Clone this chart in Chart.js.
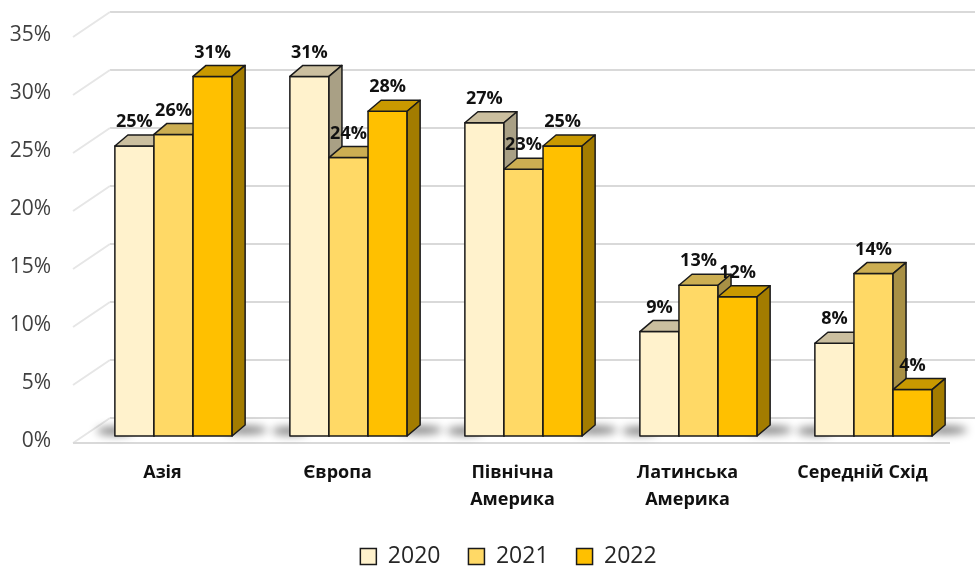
<!DOCTYPE html>
<html>
<head>
<meta charset="utf-8">
<script src="https://cdn.jsdelivr.net/npm/chart.js@4.4.0/dist/chart.umd.min.js"></script>
<style>
  html, body { margin: 0; padding: 0; background: #fff; }
  #wrap { width: 975px; height: 568px; }
</style>
</head>
<body>
<div id="wrap"><canvas id="chart"></canvas></div>
<script>
const categories = ["Азія", "Європа", ["Північна", "Америка"], ["Латинська", "Америка"], "Середній Схід"];
const years = ["2020", "2021", "2022"];
const values2020 = [25, 31, 27, 9, 8];
const values2021 = [26, 24, 23, 13, 14];
const values2022 = [31, 28, 25, 12, 4];
const yTicks = [0, 5, 10, 15, 20, 25, 30, 35];

const frontColors = ["#FFF2CC", "#FFD966", "#FFC000"];
const topColors = ["#CBBF9F", "#CCAE52", "#C99900"];
const sideColors = ["#A9A085", "#A89045", "#A37C00"];

const DX = 13, DY = 11; // bar depth

// back wall, floor and shadows
const wallPlugin = {
  id: "wall",
  afterLayout(chart) {
    // legend sits a bit right of centre in the original
    chart.legend.left += 28;
    chart.legend.right += 28;
  },
  beforeDatasetsDraw(chart) {
    const ctx = chart.ctx, y = chart.scales.y, area = chart.chartArea;
    const x0 = area.left - 13, x1 = area.left + 24;
    ctx.save();
    ctx.lineWidth = 2;
    yTicks.forEach(v => {
      const yf = y.getPixelForValue(v);
      const yb = yf - 18;
      ctx.strokeStyle = "#D9D9D9";
      ctx.beginPath(); ctx.moveTo(x1, yb); ctx.lineTo(chart.width, yb); ctx.stroke();
      ctx.strokeStyle = "#E6E6E6";
      ctx.beginPath(); ctx.moveTo(x0, yf + 7); ctx.lineTo(x1, yb); ctx.stroke();
    });
    const yz = y.getPixelForValue(0);
    ctx.strokeStyle = "#D9D9D9";
    ctx.beginPath(); ctx.moveTo(x0, yz + 7); ctx.lineTo(area.right - 11, yz + 7); ctx.stroke();

    // soft shadows on the floor, darkest next to the bars
    const first = chart.getDatasetMeta(0).data, last = chart.getDatasetMeta(2).data;
    ctx.filter = "blur(4px)";
    ctx.fillStyle = "rgba(0,0,0,0.5)";
    first.forEach((b, i) => {
      const l = b.x - b.width / 2, r = last[i].x + last[i].width / 2 + DX;
      ctx.beginPath();
      ctx.ellipse(l, yz - 5, 18, 4, 0, 0, Math.PI * 2);
      ctx.ellipse(r, yz - 6, 22, 4, 0, 0, Math.PI * 2);
      ctx.fill();
    });
    ctx.restore();
  }
};

// full 3D boxes, drawn left to right so each bar covers its neighbour's side face
const depthPlugin = {
  id: "depth",
  afterDatasetsDraw(chart) {
    const ctx = chart.ctx;
    ctx.save();
    ctx.lineWidth = 1.5;
    ctx.strokeStyle = "#1a1a1a";
    ctx.lineJoin = "round";
    chart.data.datasets.forEach((ds, i) => {
      chart.getDatasetMeta(i).data.forEach(b => {
        const l = b.x - b.width / 2, r = b.x + b.width / 2, t = b.y, bs = b.base;
        ctx.fillStyle = frontColors[i];
        ctx.beginPath();
        ctx.rect(l, t, r - l, bs - t);
        ctx.fill(); ctx.stroke();
        ctx.fillStyle = topColors[i];
        ctx.beginPath();
        ctx.moveTo(l, t); ctx.lineTo(l + DX, t - DY); ctx.lineTo(r + DX, t - DY); ctx.lineTo(r, t);
        ctx.closePath(); ctx.fill(); ctx.stroke();
        ctx.fillStyle = sideColors[i];
        ctx.beginPath();
        ctx.moveTo(r, t); ctx.lineTo(r + DX, t - DY); ctx.lineTo(r + DX, bs - DY); ctx.lineTo(r, bs);
        ctx.closePath(); ctx.fill(); ctx.stroke();
      });
    });

    ctx.font = "bold 18px 'Open Sans'";
    ctx.fillStyle = "#111";
    ctx.textAlign = "center";
    ctx.textBaseline = "middle";
    chart.data.datasets.forEach((ds, i) => {
      chart.getDatasetMeta(i).data.forEach((b, j) => {
        ctx.fillText(ds.data[j] + "%", b.x, b.y - 24);
      });
    });
    ctx.restore();
  }
};

new Chart(document.getElementById("chart"), {
  type: "bar",
  data: {
    labels: categories,
    datasets: [
      { label: years[0], data: values2020, backgroundColor: frontColors[0] },
      { label: years[1], data: values2021, backgroundColor: frontColors[1] },
      { label: years[2], data: values2022, backgroundColor: frontColors[2] }
    ].map(d => Object.assign(d, {
      borderColor: "#1a1a1a", borderWidth: 1.5, borderSkipped: false,
      categoryPercentage: 0.67, barPercentage: 1
    }))
  },
  options: {
    responsive: true,
    maintainAspectRatio: false,
    animation: false,
    layout: { padding: { top: 30, right: 14, left: 0, bottom: -10 } },
    plugins: {
      tooltip: { enabled: false },
      legend: {
        position: "bottom",
        labels: {
          boxWidth: 16, boxHeight: 16, padding: 28,
          color: "#262626",
          font: { family: "'Open Sans'", size: 23 }
        }
      }
    },
    scales: {
      x: {
        grid: { display: false, drawTicks: false },
        border: { display: false },
        ticks: {
          padding: 23, labelOffset: -11, maxRotation: 0,
          color: "#111",
          font: { family: "'Open Sans'", size: 18, weight: "bold", lineHeight: 1.5 }
        },
        afterFit(s) { s.height = 81; }
      },
      y: {
        min: 0, max: 35,
        grid: { display: false, drawTicks: false },
        border: { display: false },
        ticks: {
          stepSize: 5, padding: 35, labelOffset: 5,
          color: "#404040",
          font: { family: "'Open Sans'", size: 21 },
          callback: v => v + "%"
        },
        afterFit(s) { s.width = 86; s.paddingTop = 0; s.paddingBottom = 0; }
      }
    }
  },
  plugins: [wallPlugin, depthPlugin]
});
</script>
</body>
</html>
